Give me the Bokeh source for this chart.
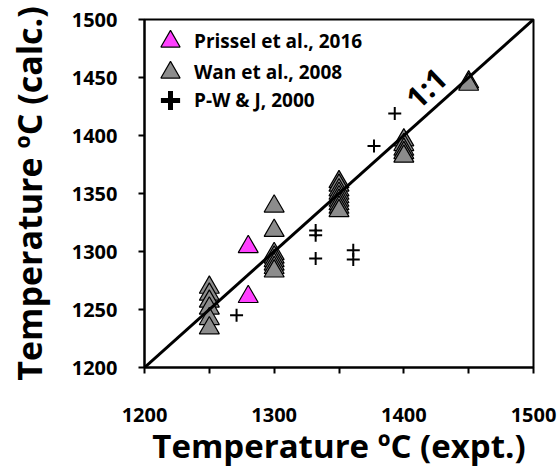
from bokeh.plotting import figure
from bokeh.models import (Slope, Label, Legend, LegendItem, FixedTicker, Range1d,
                          LinearAxis)
from bokeh.embed import file_html
from bokeh.resources import INLINE

# ---- data ----
x_ticks = [1200, 1300, 1400, 1500]
x_minor_ticks = [1250, 1350, 1450]
y_ticks = [1200, 1250, 1300, 1350, 1400, 1450, 1500]

prissel_x = [1280, 1280]
prissel_y = [1304, 1261]

wan_x = [1250, 1250, 1250, 1250, 1250, 1250,
         1300, 1300, 1300, 1300, 1300, 1300, 1300, 1300,
         1350, 1350, 1350, 1350, 1350, 1350, 1350, 1350, 1350,
         1400, 1400, 1400, 1400, 1400,
         1450, 1450]
wan_y = [1269, 1263, 1257, 1251, 1242, 1234,
         1339, 1318, 1298, 1295, 1292, 1289, 1286, 1283,
         1360, 1357, 1353, 1350, 1347, 1344, 1341, 1338, 1335,
         1396, 1392, 1388, 1385, 1382,
         1446, 1444]

pwj_x = [1271, 1332, 1332, 1332, 1361, 1361, 1377, 1393]
pwj_y = [1245, 1318, 1314, 1294, 1301, 1293, 1391, 1419]

labels = ["Prissel et al., 2016", "Wan et al., 2008", "P-W & J, 2000"]
x_title = "Temperature \u00baC (expt.)"
y_title = "Temperature \u00baC (calc.)"
one_to_one_label = "1:1"
one_to_one_pos = (1417, 1441)
y_title_span = (1219, 1500)   # span the y title is centred on

# ---- figure ----
p = figure(width=558, height=470,
           x_range=Range1d(1200, 1500), y_range=Range1d(1200, 1500),
           output_backend="svg", toolbar_location=None,
           min_border_left=144, min_border_right=25,
           min_border_top=19, min_border_bottom=102)
p.background_fill_color = "white"
p.border_fill_color = "white"
p.xgrid.visible = False
p.ygrid.visible = False
p.outline_line_color = "black"
p.outline_line_width = 2
p.outline_line_alpha = 1

tick_font = "Open Sans"
title_font = "Open Sans"

for ax in (p.xaxis[0], p.yaxis[0]):
    ax.axis_line_width = 2
    ax.axis_line_color = "black"
    ax.major_tick_in = 0
    ax.major_tick_out = 6
    ax.minor_tick_in = 0
    ax.minor_tick_out = 6
    ax.major_tick_line_width = 2
    ax.minor_tick_line_width = 2
    ax.major_tick_line_color = "black"
    ax.minor_tick_line_color = "black"
    ax.major_label_text_font = tick_font
    ax.major_label_text_font_style = "bold"
    ax.major_label_text_font_size = "20px"
    ax.major_label_text_color = "black"
    ax.axis_label_text_font = title_font
    ax.axis_label_text_font_style = "bold"
    ax.axis_label_text_font_size = "33px"
    ax.axis_label_text_color = "black"

p.xaxis.ticker = FixedTicker(ticks=x_ticks, minor_ticks=x_minor_ticks)
p.yaxis.ticker = FixedTicker(ticks=y_ticks, minor_ticks=[])
p.xaxis.major_label_standoff = 34
p.yaxis.major_label_standoff = 21
p.xaxis.axis_label_standoff = -2
p.xaxis.axis_label = x_title

# y title carried by a tick-less outer axis so it can sit a little above centre
title_axis = LinearAxis(axis_label=y_title, bounds=y_title_span,
                        ticker=FixedTicker(ticks=[], minor_ticks=[]),
                        major_tick_in=0, major_tick_out=0,
                        minor_tick_in=0, minor_tick_out=0,
                        axis_line_alpha=0, major_label_standoff=0,
                        axis_label_standoff=17,
                        axis_label_text_font=title_font,
                        axis_label_text_font_style="bold",
                        axis_label_text_font_size="34px",
                        axis_label_text_color="black")
p.add_layout(title_axis, "left")

# ---- data glyphs ----
r_wan = p.scatter(wan_x, wan_y, marker="triangle", size=20,
                  fill_color="#8C8C8C", line_color="black", line_width=1.2)
r_prissel = p.scatter(prissel_x, prissel_y, marker="triangle", size=20,
                      fill_color="#FF40FF", line_color="black", line_width=1.2)
r_pwj = p.scatter(pwj_x, pwj_y, marker="cross", size=13,
                  line_color="black", line_width=2)
# hidden twin of the P-W & J series, used only for its thicker legend symbol
r_pwj_legend = p.scatter(pwj_x, pwj_y, marker="cross", size=20,
                         line_color="black", line_width=5, visible=False)

p.add_layout(Slope(gradient=1, y_intercept=0, line_color="black", line_width=3))

p.add_layout(Label(x=one_to_one_pos[0], y=one_to_one_pos[1], text=one_to_one_label,
                   angle=44, angle_units="deg",
                   text_font=title_font, text_font_style="bold",
                   text_font_size="30px", text_color="black",
                   text_align="center", text_baseline="middle"))

legend_renderers = [r_prissel, r_wan, r_pwj_legend]
legend_offsets_y = [300, 269, 241]
for lab, rend, oy in zip(labels, legend_renderers, legend_offsets_y):
    lg = Legend(items=[LegendItem(label=lab, renderers=[rend])],
                location=(2, oy),
                glyph_width=48, glyph_height=52, spacing=0,
                label_standoff=0, padding=0, margin=0,
                border_line_color=None, background_fill_alpha=0,
                label_text_font=title_font, label_text_font_style="bold",
                label_text_font_size="19px", label_text_color="black")
    p.add_layout(lg)

open("out.html", "w").write(file_html(p, INLINE))
